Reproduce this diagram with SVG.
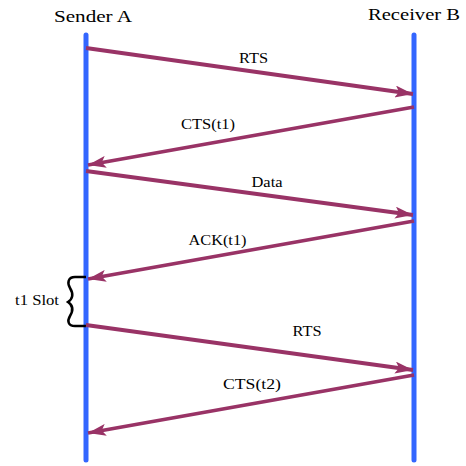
<svg xmlns="http://www.w3.org/2000/svg" width="466" height="466" viewBox="0 0 466 466">
<style>
.life{stroke:#3366FF;stroke-width:5;stroke-linecap:round;fill:none}
.msg{stroke:#993366;stroke-width:3.8;fill:none;marker-end:url(#ah)}
.lbl{font-family:'Liberation Serif','DejaVu Serif',serif;font-size:14px;fill:#000;text-anchor:middle}
.hdr{font-family:'Liberation Serif','DejaVu Serif',serif;font-size:17px;fill:#000;text-anchor:middle}
</style>
<defs>
<marker id="ah" markerWidth="20" markerHeight="12" refX="18" refY="6" orient="auto" markerUnits="userSpaceOnUse">
<path d="M0,0 L18,6 L0,12 L4,6 Z" fill="#993366"/>
</marker>
</defs>
<rect width="466" height="466" fill="#fff"/>
<g id="senderA">
<line class="life" x1="86" y1="35" x2="86" y2="460"/>
<text class="hdr" x="93" y="22" textLength="78" lengthAdjust="spacingAndGlyphs">Sender A</text>
</g>
<g id="receiverB">
<line class="life" x1="414" y1="35" x2="414" y2="460"/>
<text class="hdr" x="414" y="20" textLength="92" lengthAdjust="spacingAndGlyphs">Receiver B</text>
</g>
<g id="slot">
<path d="M86,277 L75,277 C68,277 67,283 70,288 C73,293 74,298 68,302 C74,306 73,311 70,316 C67,321 68,326 75,326 L86,326" stroke="#000" stroke-width="2.5" fill="none"/>
<text class="lbl" x="37" y="305" textLength="44" lengthAdjust="spacingAndGlyphs">t1 Slot</text>
</g>
<g id="connectors">
<line class="msg" x1="86" y1="48" x2="413" y2="94"/>
<text class="lbl" x="253.5" y="62.5" textLength="29" lengthAdjust="spacingAndGlyphs">RTS</text>
<line class="msg" x1="414" y1="107" x2="88" y2="165"/>
<text class="lbl" x="208" y="128.5" textLength="54" lengthAdjust="spacingAndGlyphs">CTS(t1)</text>
<line class="msg" x1="86" y1="171" x2="413" y2="215"/>
<text class="lbl" x="267" y="187" textLength="31" lengthAdjust="spacingAndGlyphs">Data</text>
<line class="msg" x1="414" y1="221" x2="88" y2="279"/>
<text class="lbl" x="217.5" y="245" textLength="58" lengthAdjust="spacingAndGlyphs">ACK(t1)</text>
<line class="msg" x1="86" y1="325" x2="413" y2="370"/>
<text class="lbl" x="307" y="335.5" textLength="29" lengthAdjust="spacingAndGlyphs">RTS</text>
<line class="msg" x1="414" y1="375" x2="88" y2="433"/>
<text class="lbl" x="252" y="389" textLength="58" lengthAdjust="spacingAndGlyphs">CTS(t2)</text>
</g>
</svg>
